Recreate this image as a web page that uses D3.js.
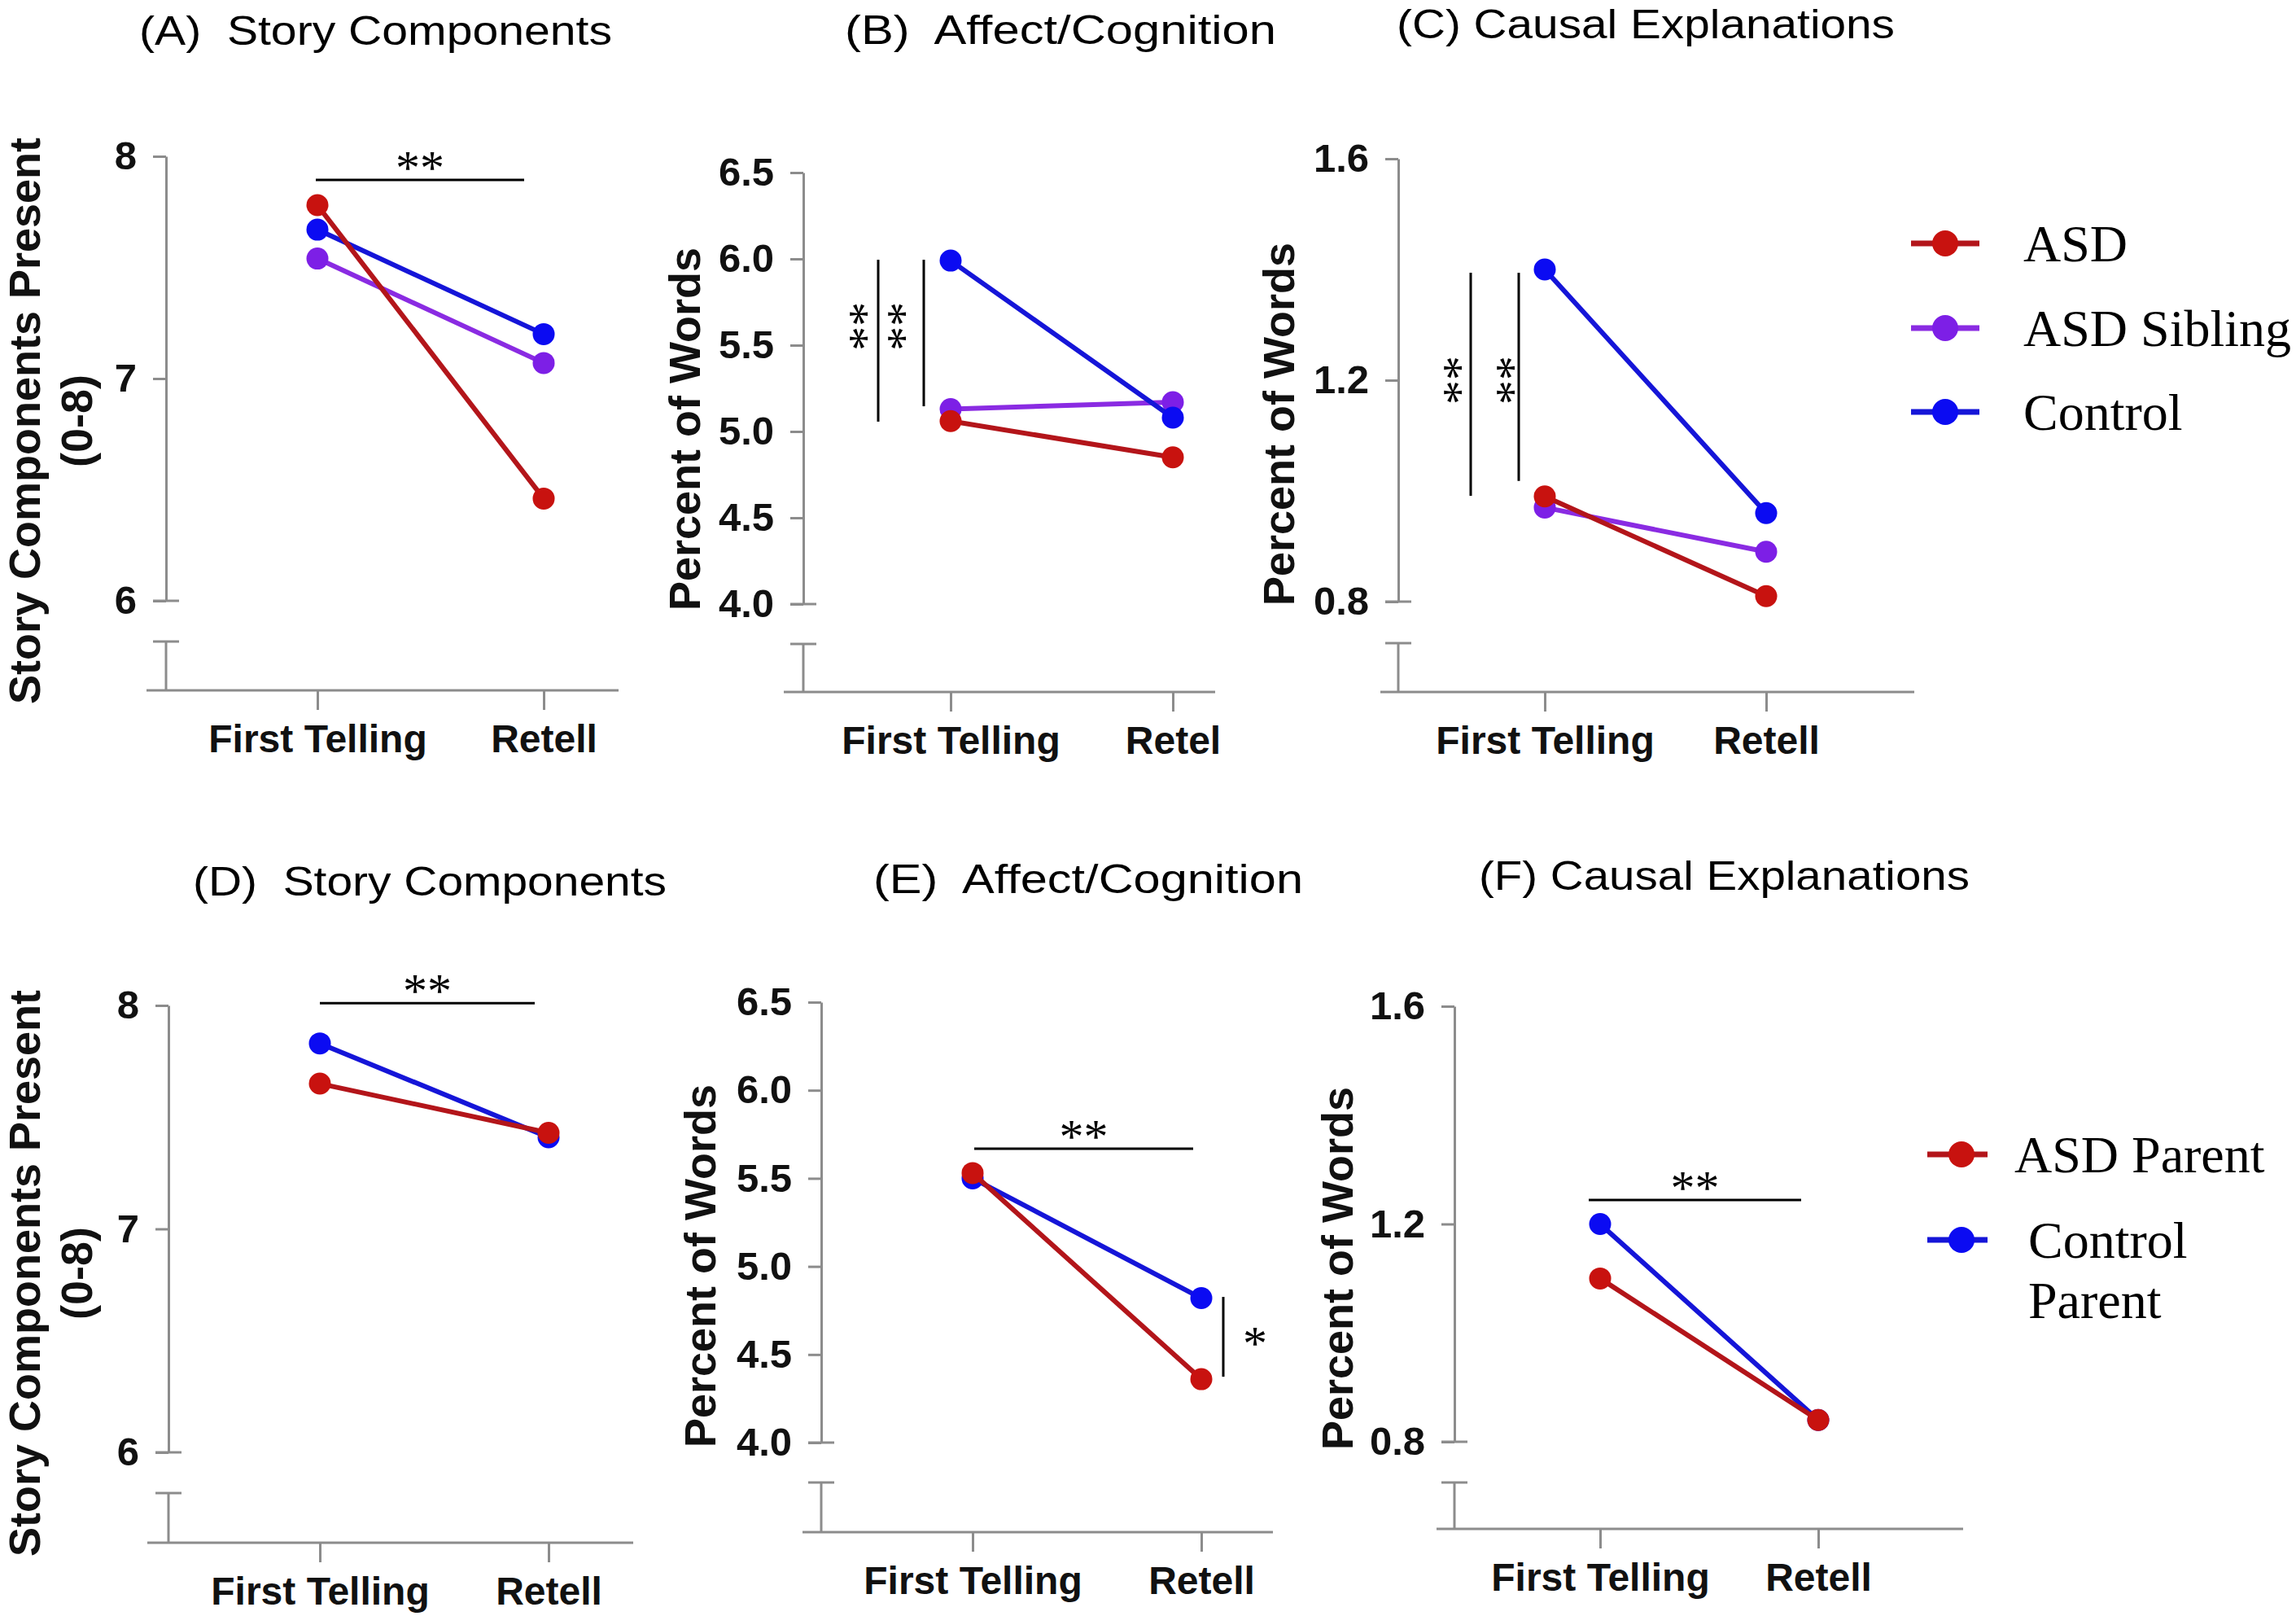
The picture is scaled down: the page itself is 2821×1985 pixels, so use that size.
<!DOCTYPE html>
<meta charset="utf-8">
<body style="margin:0;background:#fff">
<script src="https://cdn.jsdelivr.net/npm/d3@7/dist/d3.min.js"></script>
<script>
// x categories
var occasions = ["First Telling", "Retell"];

// top row: children (values at First Telling, Retell)
var storyASD = [7.78, 6.46];
var storySib = [7.54, 7.07];
var storyCtl = [7.67, 7.20];
var affectASD = [5.06, 4.85];
var affectSib = [5.13, 5.17];
var affectCtl = [5.99, 5.08];
var causalASD = [0.99, 0.81];
var causalSib = [0.97, 0.89];
var causalCtl = [1.40, 0.96];

// bottom row: parents
var storyASDPar = [7.65, 7.43];
var storyCtlPar = [7.83, 7.41];
var affectASDPar = [5.53, 4.36];
var affectCtlPar = [5.50, 4.82];
var causalASDPar = [1.10, 0.84];
var causalCtlPar = [1.20, 0.84];

// axis ticks
var storyTicks = [6, 7, 8];
var affectTicks = [4.0, 4.5, 5.0, 5.5, 6.0, 6.5];
var causalTicks = [0.8, 1.2, 1.6];

var childNames = ["ASD", "ASD Sibling", "Control"];
var parentNames = ["ASD Parent", ["Control", "Parent"]];

var red = {dot: "#c8120f", line: "#b3151a"};
var purple = {dot: "#7d1fe6", line: "#8a2be2"};
var blue = {dot: "#0b0bf2", line: "#1515d8"};

var axisCol = "#8c8c8c";
var sansBold = "'Liberation Sans', Arial, sans-serif";
var serif = "'Liberation Serif', 'Times New Roman', serif";
var titleFont = "'Liberation Sans', Arial, sans-serif";

var svg = d3.select("body").append("svg")
    .attr("width", 2821).attr("height", 1985)
    .style("display", "block");

// stretch a text to a given width
function fitWidth(sel, w) {
  sel.attr("textLength", w).attr("lengthAdjust", "spacingAndGlyphs");
}

function drawPanel(p) {
  var g = svg.append("g");
  var y = d3.scaleLinear().domain(d3.extent(p.ticks)).range([p.yBottom, p.yTop]);
  var x = d3.scalePoint().domain(occasions).range([p.xFirst, p.xRetell]);

  // y axis (upper part)
  var ya = g.append("g").attr("transform", "translate(" + p.axisX + ",0)")
      .call(d3.axisLeft(y).tickValues(p.ticks).tickFormat(p.fmt)
        .tickSize(16).tickSizeOuter(0).tickPadding(20));
  ya.select(".domain").attr("stroke", axisCol).attr("stroke-width", 3);
  ya.selectAll(".tick line").attr("stroke", axisCol).attr("stroke-width", 3);
  ya.selectAll(".tick text")
      .attr("font-family", sansBold).attr("font-weight", "bold")
      .attr("font-size", 49).attr("fill", "#111");

  // bottom cap + axis break
  g.append("line").attr("x1", p.axisX - 16).attr("x2", p.axisX + 16)
      .attr("y1", y(p.ticks[0])).attr("y2", y(p.ticks[0]))
      .attr("stroke", axisCol).attr("stroke-width", 3);
  g.append("line").attr("x1", p.axisX - 16).attr("x2", p.axisX + 16)
      .attr("y1", p.breakY).attr("y2", p.breakY)
      .attr("stroke", axisCol).attr("stroke-width", 3);
  g.append("line").attr("x1", p.axisX).attr("x2", p.axisX)
      .attr("y1", p.breakY).attr("y2", p.xAxisY)
      .attr("stroke", axisCol).attr("stroke-width", 3);

  // x axis
  g.append("line").attr("x1", p.xStart).attr("x2", p.xEnd)
      .attr("y1", p.xAxisY).attr("y2", p.xAxisY)
      .attr("stroke", axisCol).attr("stroke-width", 3);
  var xa = g.append("g").attr("transform", "translate(0," + p.xAxisY + ")")
      .call(d3.axisBottom(x).tickSize(24).tickFormat(function (d) {
        return d === "Retell" ? p.retellLabel : d;
      }));
  xa.select(".domain").remove();
  xa.selectAll(".tick line").attr("stroke", axisCol).attr("stroke-width", 3);
  xa.selectAll(".tick text")
      .attr("font-family", sansBold).attr("font-weight", "bold")
      .attr("font-size", 48).attr("fill", "#111")
      .attr("y", 76).attr("dy", 0);

  // y title
  p.yTitle.forEach(function (t, i) {
    g.append("text")
        .attr("transform", "translate(" + p.yTitleX[i] + "," + p.yTitleY + ") rotate(-90)")
        .attr("text-anchor", "middle")
        .attr("font-family", sansBold).attr("font-weight", "bold")
        .attr("font-size", 54).attr("fill", "#111")
        .text(t);
  });

  // panel title
  var tt = g.append("text")
      .attr("x", p.titleX[0]).attr("y", p.titleY)
      .attr("font-family", titleFont).attr("font-size", 50)
      .style("white-space", "pre")
      .text(p.title);
  fitWidth(tt, p.titleX[1] - p.titleX[0]);

  // series
  var line = d3.line().x(function (d, i) { return x(occasions[i]); }).y(function (d) { return y(d); });
  p.series.forEach(function (s) {
    g.append("path").datum(s.values)
        .attr("d", line).attr("fill", "none")
        .attr("stroke", s.col.line).attr("stroke-width", 6);
    g.selectAll(null).data(s.values).enter().append("circle")
        .attr("cx", function (d, i) { return x(occasions[i]); })
        .attr("cy", function (d) { return y(d); })
        .attr("r", 13.5).attr("fill", s.col.dot);
  });

  // significance bars
  (p.sig || []).forEach(function (s) {
    if (s.type === "h") {
      var x1 = x(s.from) + s.dx[0], x2 = x(s.to) + s.dx[1], yy = y(s.y);
      g.append("line").attr("x1", x1).attr("x2", x2).attr("y1", yy).attr("y2", yy)
          .attr("stroke", "#000").attr("stroke-width", 3);
      g.append("text").attr("x", (x1 + x2) / 2).attr("y", yy + 5)
          .attr("text-anchor", "middle").attr("font-family", serif)
          .attr("font-size", 60).text(s.label);
    } else {
      var xx = x(s.at) + s.dx;
      g.append("line").attr("x1", xx).attr("x2", xx).attr("y1", y(s.y[0])).attr("y2", y(s.y[1]))
          .attr("stroke", "#000").attr("stroke-width", 3);
      var ty = y(s.textY), tx = xx + s.textDx;
      g.append("text")
          .attr("transform", "translate(" + tx + "," + ty + ") rotate(" + s.rot + ")")
          .attr("text-anchor", "middle").attr("dy", "0.47em")
          .attr("font-family", serif).attr("font-size", 60).text(s.label);
    }
  });
}

var fmtInt = d3.format("d"), fmt1 = d3.format(".1f");

drawPanel({
  ticks: storyTicks, fmt: fmtInt, retellLabel: "Retell",
  axisX: 204, yTop: 192, yBottom: 738, breakY: 788, xAxisY: 848,
  xStart: 180, xEnd: 760, xFirst: 390, xRetell: 668,
  yTitle: ["Story Components Present", "(0-8)"], yTitleX: [49, 113], yTitleY: 517,
  title: "(A)  Story Components", titleX: [171, 752], titleY: 55,
  series: [{values: storySib, col: purple}, {values: storyCtl, col: blue}, {values: storyASD, col: red}],
  sig: [{type: "h", from: "First Telling", to: "Retell", dx: [-2, -24], y: 7.894, label: "**"}]
});

drawPanel({
  ticks: affectTicks, fmt: fmt1, retellLabel: "Retel",
  axisX: 987, yTop: 212, yBottom: 742, breakY: 791, xAxisY: 850,
  xStart: 963, xEnd: 1493, xFirst: 1168, xRetell: 1441,
  yTitle: ["Percent of Words"], yTitleX: [860], yTitleY: 527,
  title: "(B)  Affect/Cognition", titleX: [1038, 1568], titleY: 54,
  series: [{values: affectSib, col: purple}, {values: affectCtl, col: blue}, {values: affectASD, col: red}],
  sig: [
    {type: "v", at: "First Telling", dx: -89, y: [5.995, 5.057], textDx: -24, textY: 5.61, rot: 90, label: "**"},
    {type: "v", at: "First Telling", dx: -33, y: [5.995, 5.146], textDx: -33, textY: 5.61, rot: 90, label: "**"}
  ]
});

drawPanel({
  ticks: causalTicks, fmt: fmt1, retellLabel: "Retell",
  axisX: 1718, yTop: 195, yBottom: 739, breakY: 790, xAxisY: 850,
  xStart: 1696, xEnd: 2352, xFirst: 1898, xRetell: 2170,
  yTitle: ["Percent of Words"], yTitleX: [1590], yTitleY: 521,
  title: "(C) Causal Explanations", titleX: [1716, 2328], titleY: 47,
  series: [{values: causalSib, col: purple}, {values: causalCtl, col: blue}, {values: causalASD, col: red}],
  sig: [
    {type: "v", at: "First Telling", dx: -91, y: [1.394, 0.991], textDx: -22, textY: 1.2, rot: 90, label: "**"},
    {type: "v", at: "First Telling", dx: -32, y: [1.394, 1.018], textDx: -16, textY: 1.2, rot: 90, label: "**"}
  ]
});

drawPanel({
  ticks: storyTicks, fmt: fmtInt, retellLabel: "Retell",
  axisX: 207, yTop: 1235, yBottom: 1784, breakY: 1834, xAxisY: 1895,
  xStart: 181, xEnd: 778, xFirst: 393, xRetell: 674,
  yTitle: ["Story Components Present", "(0-8)"], yTitleX: [49, 113], yTitleY: 1564,
  title: "(D)  Story Components", titleX: [237, 819], titleY: 1100,
  series: [{values: storyCtlPar, col: blue}, {values: storyASDPar, col: red}],
  sig: [{type: "h", from: "First Telling", to: "Retell", dx: [0, -17], y: 8.01, label: "**"}]
});

drawPanel({
  ticks: affectTicks, fmt: fmt1, retellLabel: "Retell",
  axisX: 1009, yTop: 1231, yBottom: 1772, breakY: 1821, xAxisY: 1882,
  xStart: 986, xEnd: 1564, xFirst: 1195, xRetell: 1476,
  yTitle: ["Percent of Words"], yTitleX: [879], yTitleY: 1555,
  title: "(E)  Affect/Cognition", titleX: [1073, 1601], titleY: 1097,
  series: [{values: affectCtlPar, col: blue}, {values: affectASDPar, col: red}],
  sig: [
    {type: "h", from: "First Telling", to: "Retell", dx: [2, -10], y: 5.668, label: "**"},
    {type: "v", at: "Retell", dx: 27, y: [4.827, 4.374], textDx: 39, textY: 4.60, rot: 0, label: "*"}
  ]
});

drawPanel({
  ticks: causalTicks, fmt: fmt1, retellLabel: "Retell",
  axisX: 1787, yTop: 1236, yBottom: 1771, breakY: 1821, xAxisY: 1878,
  xStart: 1765, xEnd: 2412, xFirst: 1966, xRetell: 2234,
  yTitle: ["Percent of Words"], yTitleX: [1662], yTitleY: 1558,
  title: "(F) Causal Explanations", titleX: [1817, 2420], titleY: 1093,
  series: [{values: causalCtlPar, col: blue}, {values: causalASDPar, col: red}],
  sig: [{type: "h", from: "First Telling", to: "Retell", dx: [-14, -21], y: 1.244, label: "**"}]
});

// legends
function drawLegend(names, cols, rows, lx, dotX, textX) {
  names.forEach(function (n, i) {
    var r = rows[i];
    svg.append("line").attr("x1", lx[0]).attr("x2", lx[1]).attr("y1", r).attr("y2", r)
        .attr("stroke", cols[i].line).attr("stroke-width", 7);
    svg.append("circle").attr("cx", dotX).attr("cy", r).attr("r", 16).attr("fill", cols[i].dot);
    var lines = Array.isArray(n) ? n : [n];
    lines.forEach(function (t, j) {
      svg.append("text").attr("x", textX[i]).attr("y", r + 22 + j * 74)
          .attr("font-family", serif).attr("font-size", 64).attr("fill", "#000")
          .text(t);
    });
  });
}
drawLegend(childNames, [red, purple, blue], [299, 403, 506], [2348, 2432], 2390, [2486, 2486, 2486]);
drawLegend(parentNames, [red, blue], [1418, 1523], [2368, 2442], 2410, [2475, 2492]);
</script>
</body>
